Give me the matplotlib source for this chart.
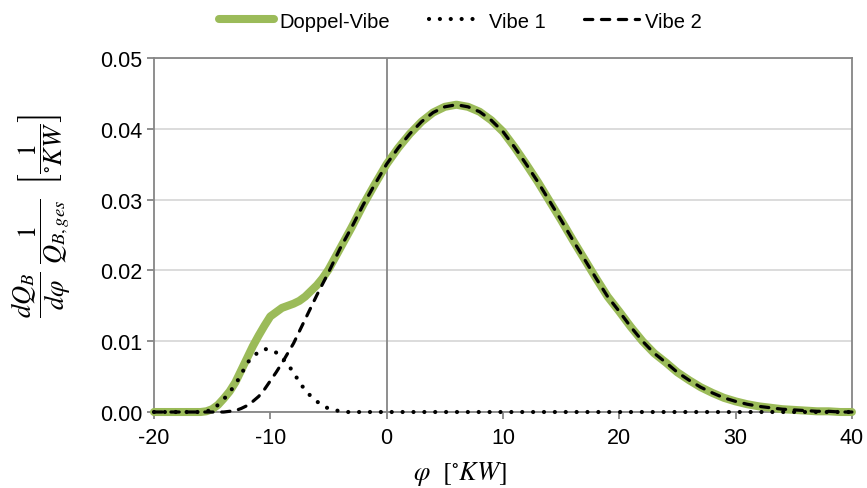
import numpy as np
import matplotlib
matplotlib.use("Agg")
import matplotlib.pyplot as plt

plt.rcParams['font.family'] = ['Liberation Sans', 'DejaVu Sans']
plt.rcParams['mathtext.fontset'] = 'stix'

# crank angle in degrees (°KW), finer steps around the first hump
phi = [-20, -19, -18, -17, -16, -15.5, -15, -14.5, -14, -13.5, -13, -12.5, -12, -11.5,
       -11, -10.5, -10, -9.5, -9, -8.5, -8, -7.5, -7, -6.5, -6, -5.5, -5, -4.5, -4, -3.5,
       -3, -2, -1, 0, 1, 2, 3, 4, 5, 6, 7, 8, 9, 10, 11, 12, 13, 14, 15, 16, 17, 18, 19,
       20, 21, 22, 23, 24, 25, 26, 27, 28, 29, 30, 31, 32, 33, 34, 35, 36, 37, 38, 39, 40]

# normalised heat release rate
doppel_vibe = [0, 0, 0, 0, 0, 0.0001, 0.0004, 0.0010, 0.0019, 0.0029, 0.0042, 0.0059, 0.0076, 0.0093,
               0.0108, 0.0122, 0.0135, 0.0141, 0.0147, 0.0150, 0.0153, 0.0157, 0.0163, 0.0171,
               0.0179, 0.0189, 0.0201, 0.0216, 0.0231, 0.0246,
               0.0261, 0.0293, 0.0322, 0.0350, 0.0373, 0.0393, 0.0410, 0.0423, 0.0431, 0.0434,
               0.0431, 0.0424, 0.0412, 0.0396, 0.0374, 0.0350, 0.0325, 0.0298, 0.0271, 0.0243,
               0.0216, 0.0189, 0.0163, 0.0142, 0.0120, 0.0100, 0.0083, 0.0070, 0.0056, 0.0045,
               0.0035, 0.0027, 0.0020, 0.0015, 0.0011, 0.0008, 0.0006, 0.0004, 0.0003, 0.0002,
               0.0001, 0.0001, 0.0, 0.0]

vibe_1 = [0, 0, 0, 0, 0, 0.0001, 0.0003, 0.0010, 0.0018, 0.0028, 0.0039, 0.0053, 0.0069, 0.0078,
          0.0085, 0.0089, 0.0088, 0.0084, 0.0077, 0.0067, 0.0056, 0.0042, 0.0031, 0.0022,
          0.0015, 0.0009, 0.0005, 0.0003, 0.0001, 0,
          0, 0, 0, 0, 0, 0, 0, 0, 0, 0,
          0, 0, 0, 0, 0, 0, 0, 0, 0, 0,
          0, 0, 0, 0, 0, 0, 0, 0, 0, 0,
          0, 0, 0, 0, 0, 0, 0, 0, 0, 0,
          0, 0, 0, 0]

vibe_2 = [0, 0, 0, 0, 0, 0, 0, 0, 0, 0.0001, 0.0002, 0.0005, 0.0009, 0.0015,
          0.0022, 0.0032, 0.0044, 0.0056, 0.0069, 0.0083, 0.0097, 0.0114, 0.0131, 0.0148,
          0.0165, 0.0181, 0.0197, 0.0214, 0.0231, 0.0246,
          0.0261, 0.0293, 0.0322, 0.0350, 0.0373, 0.0393, 0.0410, 0.0423, 0.0431, 0.0434,
          0.0431, 0.0424, 0.0412, 0.0396, 0.0374, 0.0350, 0.0325, 0.0298, 0.0271, 0.0243,
          0.0216, 0.0189, 0.0163, 0.0142, 0.0120, 0.0100, 0.0083, 0.0070, 0.0056, 0.0045,
          0.0035, 0.0027, 0.0020, 0.0015, 0.0011, 0.0008, 0.0006, 0.0004, 0.0003, 0.0002,
          0.0001, 0.0001, 0.0, 0.0]

x_ticks = [-20, -10, 0, 10, 20, 30, 40]
y_ticks = [0.00, 0.01, 0.02, 0.03, 0.04, 0.05]

axis_grey = '#868686'

fig = plt.figure(figsize=(8.67, 4.89), dpi=100)
ax = fig.add_axes([0.1776, 0.1554, 0.805, 0.724])

ax.set_xlim(-20, 40)
ax.set_ylim(0, 0.05)
ax.set_xticks(x_ticks)
ax.set_yticks(y_ticks)
ax.set_xticklabels([str(t) for t in x_ticks])
ax.set_yticklabels(['%.2f' % t for t in y_ticks])

ax.grid(axis='y', color='#d9d9d9', lw=1.3, zorder=0)
ax.set_axisbelow(True)
for s in ax.spines.values():
    s.set_color(axis_grey)
    s.set_linewidth(1.3)
ax.tick_params(colors=axis_grey, labelcolor='black', labelsize=15.5,
               length=5, width=1.3, direction='out')
ax.tick_params(axis='x', pad=6)
ax.axvline(0, color=axis_grey, lw=1.3, zorder=1)

ax.plot(phi, doppel_vibe, color='#9bbb59', lw=5.8, solid_capstyle='round',
        solid_joinstyle='round', label='Doppel-Vibe', zorder=3, clip_on=False)
ax.plot(phi, vibe_1, color='black', lw=3.0, dashes=(0.01, 2.6),
        dash_capstyle='round', label='Vibe 1', zorder=4, clip_on=False)
ax.plot(phi, vibe_2, color='black', lw=2.3, dashes=(2.6, 2.7),
        dash_capstyle='round', label='Vibe 2', zorder=5, clip_on=False)

# axis titles placed directly in figure coordinates
fig.text(0.5306, 0.031, r'$\varphi\ \ [^{\circ}KW]$', fontsize=19,
         ha='center', va='center')
fig.text(0.048, 0.558,
         r'$\dfrac{dQ_B}{d\varphi}\ \dfrac{1}{Q_{B,ges}}\ \ \left[\dfrac{1}{^{\circ}KW}\right]$',
         fontsize=19, rotation=90, ha='center', va='center')

fig.legend(loc='center', bbox_to_anchor=(0.531, 0.955), ncol=3, frameon=False,
           fontsize=14.5, handlelength=2.7, handletextpad=0.3, columnspacing=1.9)

fig.savefig('out.png', dpi=100)
